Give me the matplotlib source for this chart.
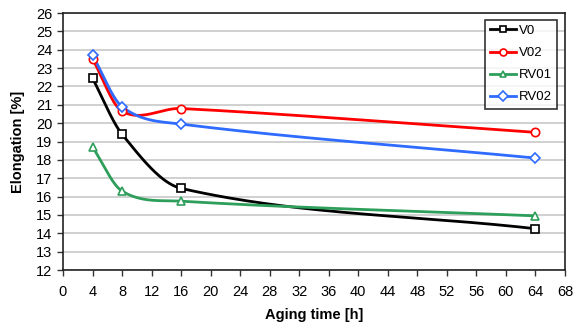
import numpy as np
import matplotlib.pyplot as plt

plt.rcParams['font.family'] = ['Liberation Sans', 'DejaVu Sans']

hours = [4, 8, 16, 64]
v0 = [22.45, 19.4, 16.45, 14.25]
v02 = [23.5, 20.65, 20.8, 19.5]
rv01 = [18.7, 16.3, 15.75, 14.95]
rv02 = [23.7, 20.9, 19.95, 18.1]

series = [('V0', v0, 'black', 's'),
          ('V02', v02, 'red', 'o'),
          ('RV01', rv01, '#2e9e5b', '^'),
          ('RV02', rv02, '#2f6bff', 'D')]


def smooth(x, y, n=60):
    # smoothed line through the points (cubic hermite, centred slopes)
    x = np.asarray(x, float)
    y = np.asarray(y, float)
    m = np.zeros(len(x))
    m[0] = (y[1] - y[0]) / (x[1] - x[0])
    m[-1] = (y[-1] - y[-2]) / (x[-1] - x[-2])
    for i in range(1, len(x) - 1):
        m[i] = (y[i + 1] - y[i - 1]) / (x[i + 1] - x[i - 1])
    xs, ys = [], []
    for i in range(len(x) - 1):
        h = x[i + 1] - x[i]
        t = np.linspace(0, 1, n)
        h00 = 2 * t**3 - 3 * t**2 + 1
        h10 = t**3 - 2 * t**2 + t
        h01 = -2 * t**3 + 3 * t**2
        h11 = t**3 - t**2
        xs.extend(x[i] + t * h)
        ys.extend(h00 * y[i] + h10 * h * m[i] + h01 * y[i + 1] + h11 * h * m[i + 1])
    return xs, ys


fig = plt.figure(figsize=(5.8, 3.27), dpi=100)
ax = fig.add_axes([0.1086, 0.1743, 0.8655, 0.7857])

for name, vals, col, mk in series:
    sx, sy = smooth(hours, vals)
    ax.plot(sx, sy, color=col, lw=2, zorder=3)
    ax.plot(hours, vals, ls='none', marker=mk, ms=6 if mk != 'D' else 5,
            mfc='white', mec=col, mew=1.2, zorder=4)
    ax.plot([], [], color=col, lw=2, marker=mk, ms=5, mfc='white', mec=col,
            mew=1.2, label=name)

ax.set_xlim(0, 68)
ax.set_ylim(12, 26)
ax.set_xticks(range(0, 69, 4))
ax.set_yticks(range(12, 27))
ax.yaxis.grid(True, color='#c8c8c8', lw=1.2)
ax.set_axisbelow(True)
ax.tick_params(direction='out', length=4, width=1, labelsize=10.5, color='#333333')
ax.tick_params(axis='x', pad=7)
for s in ax.spines.values():
    s.set_color('#222222')
    s.set_linewidth(1.2)

ax.set_xlabel('Aging time [h]', fontsize=10.5, fontweight='bold', labelpad=6)
ax.set_ylabel('Elongation [%]', fontsize=10.5, fontweight='bold', labelpad=8)

leg = ax.legend(loc='upper right', bbox_to_anchor=(0.985, 0.975), fontsize=9.5,
                frameon=True, fancybox=False, handlelength=2.0, handletextpad=0.2,
                borderpad=0.4, labelspacing=0.75, borderaxespad=0)
leg.get_frame().set_edgecolor('black')
leg.get_frame().set_linewidth(1.2)

fig.savefig('out.png', dpi=100)
